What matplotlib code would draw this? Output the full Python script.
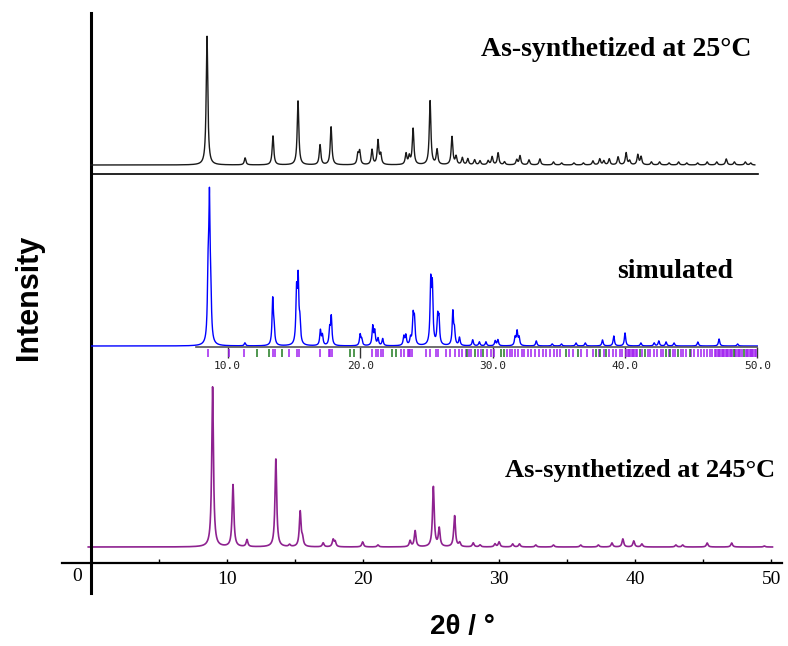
import numpy as np
import matplotlib.pyplot as plt

W, H = 788, 646

# as-synthetized at 25 C (top trace): peak position (2theta) and height
top_pos = [8.53, 11.33, 13.38, 15.22, 16.84, 17.65, 19.62, 19.75, 20.66, 21.1, 21.3,
           23.16, 23.4, 23.68, 24.93, 25.44, 26.54, 26.84, 27.3, 27.7, 28.2, 28.6,
           29.2, 29.49, 29.93, 30.4, 31.3, 31.54, 32.2, 33.0, 34.0, 34.6, 35.5, 36.2,
           36.9, 37.4, 37.7, 38.1, 38.75, 39.34, 39.6, 40.2, 40.44, 41.2, 41.8, 42.5,
           43.2, 43.8, 44.6, 45.3, 46.0, 46.7, 47.3, 48.1, 48.5]
top_int = [129, 7, 29, 64, 20, 38, 10, 13, 15, 24, 10,
           11, 8, 36, 64, 15, 28, 8, 7, 6, 5, 4,
           4, 8, 12, 3, 5, 9, 5, 6, 3, 2, 2, 2,
           4, 6, 4, 6, 8, 12, 4, 10, 8, 3, 3, 2,
           3, 2, 2, 3, 3, 6, 3, 3, 2]

# simulated pattern (middle trace)
sim_pos = [8.52, 8.62, 8.72, 11.3, 13.4, 13.5, 15.2, 15.32, 15.45, 17.0, 17.15,
           17.7, 17.82, 20.0, 20.12, 20.95, 21.1, 21.35, 21.7, 23.3, 23.45, 23.8,
           24.0, 24.1, 25.33, 25.45, 25.85, 25.95, 27.0, 27.12, 27.5, 28.5, 29.0,
           29.5, 30.2, 30.4, 31.7, 31.85, 32.0, 33.3, 34.5, 35.2, 36.3, 37.0, 38.3,
           39.15, 40.0, 41.2, 42.2, 42.55, 43.1, 43.7, 45.5, 47.1, 48.5]
sim_int = [58, 133, 40, 3, 45, 15, 50, 62, 20, 15, 10,
           15, 28, 11, 6, 19, 14, 7, 7, 9, 10, 7,
           28, 24, 60, 55, 26, 24, 33, 14, 8, 6, 4,
           4, 5, 6, 8, 14, 8, 5, 2, 2, 3, 3, 6,
           10, 13, 3, 3, 5, 4, 3, 4, 7, 2]

# as-synthetized at 245 C (bottom trace)
hot_pos = [8.94, 10.44, 11.47, 13.59, 14.6, 15.38, 15.55, 17.07, 17.8, 17.95, 19.97,
           21.1, 23.46, 23.83, 25.17, 25.6, 26.73, 27.1, 28.1, 28.6, 29.7, 30.0,
           31.0, 31.5, 32.7, 34.0, 36.0, 37.3, 38.3, 39.1, 39.9, 40.5, 43.0, 43.5,
           45.3, 47.1, 49.5]
hot_int = [160, 62, 7, 88, 2, 35, 7, 4, 7, 5, 5,
           2, 6, 16, 60, 18, 31, 4, 4, 2, 3, 5,
           3, 3, 2, 2, 2, 2, 4, 8, 6, 3, 2, 2,
           4, 4, 1]

# reflection markers under the simulated pattern
hkl_violet = [8.53, 10.12, 11.25, 13.44, 13.6, 14.65, 15.2, 15.4, 16.96, 17.64, 17.74,
              17.84, 20.86, 21.18, 21.36, 21.54, 21.69, 23.07, 23.3, 23.6, 23.7, 23.8,
              23.9, 24.96, 25.26, 25.7, 25.9, 26.5, 26.8, 27.2, 27.5, 27.7, 28.0, 28.2,
              28.4, 28.9, 29.1, 29.6, 29.85, 30.1, 31.1, 31.3, 31.5, 31.7, 31.9, 32.2,
              32.4, 32.7, 32.9, 33.2, 33.5, 33.8, 34.0, 34.3, 34.6, 34.9, 35.1, 35.8,
              36.1, 36.7, 37.1, 37.6, 38.0, 38.4, 38.8, 39.1, 39.3, 39.6, 39.8, 40.1,
              40.2, 40.3, 40.4, 40.5, 40.6, 40.7, 40.8, 40.9, 41.3, 41.7, 41.9, 42.2,
              42.4, 42.7, 42.9, 43.3, 43.6, 43.8, 44.2, 44.4, 44.6, 45.0, 45.2, 45.5,
              45.7, 46.0, 46.2, 46.4, 46.6, 46.8, 46.9, 47.0, 47.1, 47.2, 47.3, 47.4,
              47.5, 47.6, 47.7, 47.8, 47.9, 48.0, 48.1, 48.3, 48.4, 48.5, 48.6, 48.7,
              48.8, 49.1, 49.2, 49.3, 49.4, 49.5, 49.6, 49.7, 49.8, 49.9]
hkl_green = [12.23, 13.13, 14.07, 19.22, 19.5, 22.44, 22.7, 28.05, 28.66, 29.3, 30.67,
             30.87, 35.58, 36.45, 37.84, 38.09, 38.6, 41.1, 41.5, 43.1, 43.4, 44.0,
             44.9, 48.2, 49.0]

xticks = [0, 10, 20, 30, 40, 50]
xminor = [5, 15, 25, 35, 45]
sim_ticks = [10, 20, 30, 40, 50]
sim_ticklabels = ['10.0', '20.0', '30.0', '40.0', '50.0']

SERIF = ['Liberation Serif', 'DejaVu Serif']
SANS = ['Liberation Sans', 'DejaVu Sans']


def profile(tt, pos, inten, hw):
    y = np.zeros_like(tt)
    for p, h in zip(pos, inten):
        y += h / (1 + ((tt - p) / hw) ** 2)
    return y


def px_axes(fig, x0, y0, x1, y1):
    ax = fig.add_axes([x0 / W, 1 - y1 / H, (x1 - x0) / W, (y1 - y0) / H])
    ax.patch.set_alpha(0)
    for s in ax.spines.values():
        s.set_visible(False)
    ax.set_xticks([])
    ax.set_yticks([])
    return ax


fig = plt.figure(figsize=(W / 100, H / 100), dpi=100)

# bottom panel carries the real 2theta axis and the long left line
axb = px_axes(fig, 62, 13, 782, 563)
axb.set_xlim(-2.13, 50.8)
axb.set_ylim(-16, 534)
tt = np.linspace(-0.2, 50.1, 6000)
axb.plot(tt, profile(tt, hot_pos, hot_int, 0.075), color='#8e2290', lw=1.2)
axb.spines['bottom'].set_visible(True)
axb.spines['bottom'].set_linewidth(1.6)
axb.axvline(0, ymin=-30 / 550, ymax=1, color='black', lw=2.2, clip_on=False)
axb.set_xticks(xticks)
axb.set_xticks(xminor, minor=True)
axb.set_xticklabels([''] + [str(t) for t in xticks[1:]], fontfamily=SERIF, fontsize=14)
axb.tick_params(axis='x', which='both', direction='in', length=3, width=1, pad=6)
axb.text(-1.05, -0.024, str(xticks[0]), transform=axb.get_xaxis_transform(),
         ha='center', va='center', fontfamily=SERIF, fontsize=14)
axb.set_xlabel('2\u03b8 / \u00b0', fontfamily=SANS, fontsize=20, fontweight='bold')
axb.xaxis.set_label_coords((462 - 62) / 720, -0.092)
axb.xaxis.label.set_va('top')
axb.text(30.4, 77, 'As-synthetized at 245\u00b0C', ha='left', va='center',
         fontfamily=SERIF, fontsize=19, fontweight='bold')

# middle panel: simulated pattern with its own scale and reflection marks
axm = px_axes(fig, 91, 174, 758, 347)
axm.set_xlim(-0.32, 50.04)
axm.set_ylim(-1, 172)
tt = np.linspace(-0.32, 50.0, 6000)
axm.plot(tt, profile(tt, sim_pos, sim_int, 0.06), color='#0000ff', lw=1.0)
axm.spines['top'].set_visible(True)
axm.spines['top'].set_linewidth(1.2)
axm.spines['bottom'].set_visible(True)
axm.spines['bottom'].set_color('#555555')
axm.spines['bottom'].set_linewidth(1.2)
axm.spines['bottom'].set_bounds(7.6, 50)
axm.set_xticks(sim_ticks)
axm.set_xticklabels(sim_ticklabels, fontfamily='DejaVu Sans Mono', fontsize=8,
                    color='#222222')
axm.tick_params(axis='x', direction='out', length=8, width=1, color='#333333', pad=2)
axm.vlines(hkl_violet, -3, -11, color='#a020f0', lw=1.1, clip_on=False)
axm.vlines(hkl_green, -3, -11, color='#1f7a1f', lw=1.1, clip_on=False)
axm.text(39.4, 75, 'simulated', ha='left', va='center',
         fontfamily=SERIF, fontsize=20, fontweight='bold')

# top panel
axt = px_axes(fig, 62, 13, 782, 173)
axt.set_xlim(-2.13, 50.8)
axt.set_ylim(-8, 152)
tt = np.linspace(0, 48.8, 6000)
axt.plot(tt, profile(tt, top_pos, top_int, 0.07), color='#1a1a1a', lw=1.0)
axt.text(28.7, 115, 'As-synthetized at 25\u00b0C', ha='left', va='center',
         fontfamily=SERIF, fontsize=20, fontweight='bold')

fig.text(29 / W, 1 - 297 / H, 'Intensity', rotation=90, ha='center', va='center',
         fontfamily=SANS, fontsize=22, fontweight='bold')

fig.savefig('out.png', dpi=100)
